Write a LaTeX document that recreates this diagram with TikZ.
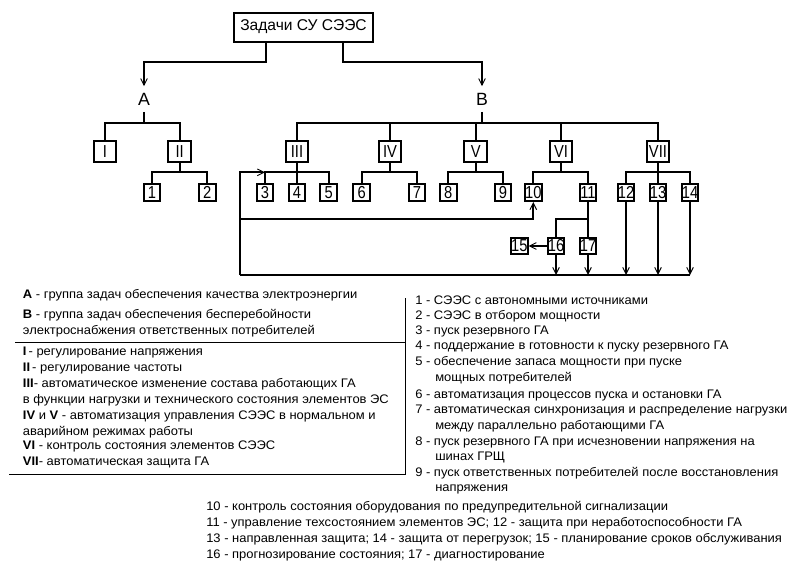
\documentclass[tikz,border=0pt]{standalone}
\usepackage{fontspec}
\setmainfont{Liberation Sans}
\newfontfamily\narrowfont{Liberation Sans}[FakeStretch=0.85]
\newfontfamily\legfont{Liberation Sans}[FakeStretch=1.045]
\usetikzlibrary{arrows.meta,calc}
\tikzset{
  conn/.style={line width=1.5pt},
  arr/.style={conn,-{Straight Barb[length=5pt,width=5pt,line width=0.7pt]}},
  rbox/.style={draw,line width=1.5pt,minimum width=17pt,minimum height=16pt,inner sep=0pt,font=\narrowfont\fontsize{13}{13}\selectfont},
  nbox/.style={draw,line width=1.5pt,minimum width=12.5pt,minimum height=12.5pt,inner sep=0pt,font=\narrowfont\fontsize{13}{13}\selectfont},
  grp/.style={inner sep=0pt,minimum height=18.75pt,font=\fontsize{13.3}{13.3}\selectfont},
  leg/.style={anchor=west,inner sep=0pt,font=\legfont\fontsize{9.3}{11}\selectfont},
  sep/.style={line width=0.75pt}
}
\begin{document}
\begin{tikzpicture}[x=0.75pt,y=-0.75pt]
\useasboundingbox (0,0) rectangle (797,572);
% title
\node[draw,line width=1.5pt,minimum width=104.6pt,minimum height=21.75pt,inner sep=0pt,font=\fontsize{11.7}{11.7}\selectfont] (title) at (303.5,27) {Задачи СУ СЭЭС};
\node[grp] (A) at (144,99) {A};
\node[grp] (B) at (482,99) {B};
% roman boxes
\node[rbox] (I) at (105,151.7) {I};
\node[rbox] (II) at (179.7,151.7) {II};
\node[rbox] (III) at (297,151.7) {III};
\node[rbox] (IV) at (390,151.7) {IV};
\node[rbox] (V) at (475.8,151.7) {V};
\node[rbox] (VI) at (561,151.7) {VI};
\node[rbox] (VII) at (658,151.7) {VII};
% number boxes
\node[nbox] (n1) at (152,192.7) {1};
\node[nbox] (n2) at (207.3,192.7) {2};
\node[nbox] (n3) at (265,192.7) {3};
\node[nbox] (n4) at (297,192.7) {4};
\node[nbox] (n5) at (328.7,192.7) {5};
\node[nbox] (n6) at (361.7,192.7) {6};
\node[nbox] (n7) at (417,192.7) {7};
\node[nbox] (n8) at (448.3,192.7) {8};
\node[nbox] (n9) at (503,192.7) {9};
\node[nbox] (n10) at (533.3,192.7) {10};
\node[nbox] (n11) at (588,192.7) {11};
\node[nbox] (n12) at (626,192.7) {12};
\node[nbox] (n13) at (658,192.7) {13};
\node[nbox] (n14) at (690,192.7) {14};
\node[nbox] (n15) at (519.3,246) {15};
\node[nbox] (n16) at (556,246) {16};
\node[nbox] (n17) at (588,246) {17};
% junction coordinates
\coordinate (ta) at (265.7,62.3);
\coordinate (tb) at (342.7,62.3);
\coordinate (aj) at (144,122.7);
\coordinate (bj) at (482,122.7);
\coordinate (c2) at (179.7,172.3);
\coordinate (c4) at (390,172.3);
\coordinate (c5) at (475.8,172.3);
\coordinate (c6) at (561,172.3);
\coordinate (lt) at (240,172.3);
\coordinate (lm) at (240,219);
\coordinate (lb) at (240,275);
% title to groups
\draw[arr] (title.south -| ta) -- (ta) -| (A.north);
\draw[arr] (title.south -| tb) -- (tb) -| (B.north);
% group A
\draw[conn] (A.south) -- (aj);
\draw[conn] (I.north) |- (aj) -| (II.north);
\draw[conn] (II.south) -- (c2);
\draw[conn] (n1.north) |- (c2) -| (n2.north);
% group B
\draw[conn] (B.south) -- (bj);
\draw[conn] (III.north) |- (bj) -| (VII.north);
\draw[conn] (IV.north) -- (IV.north |- bj);
\draw[conn] (V.north) -- (V.north |- bj);
\draw[conn] (VI.north) -- (VI.north |- bj);
% children
\draw[conn] (III.south) -- (n4.north);
\draw[conn] (n3.north) |- (n5.north |- lt) -- (n5.north);
\draw[conn] (IV.south) -- (c4);
\draw[conn] (n6.north) |- (c4) -| (n7.north);
\draw[conn] (V.south) -- (c5);
\draw[conn] (n8.north) |- (c5) -| (n9.north);
\draw[conn] (VI.south) -- (c6);
\draw[conn] (n10.north) |- (c6) -| (n11.north);
\draw[conn] (VII.south) -- (n13.north);
\draw[conn] (n12.north) |- (n13.north |- lt) -| (n14.north);
% feedback loop
\draw[arr] (lb) -- (lt) -- (lt -| n3.north);
\draw[conn] (lb) -- (lb -| n14.south);
\draw[arr] (lm) -| (n10.south);
\draw[conn] (n11.south) -- (n17.north);
\draw[conn] (n11.south |- lm) -| (n16.north);
\draw[arr] (n16.west) -- (n15.east);
\draw[arr] (n16.south) -- (n16.south |- lb);
\draw[arr] (n17.south) -- (n17.south |- lb);
\draw[arr] (n12.south) -- (n12.south |- lb);
\draw[arr] (n13.south) -- (n13.south |- lb);
\draw[arr] (n14.south) -- (n14.south |- lb);
% legend frame
\coordinate (fs) at (15,342);
\coordinate (fb) at (9,474);
\coordinate (ft) at (405,298);
\draw[sep] (fs) -- (fs -| ft);
\draw[sep] (fb) -| (ft);
% left legend
\node[leg] (la) at (22.7,295) {\textbf{A} - группа задач обеспечения качества электроэнергии};
\node[leg] (lbB) at (22.7,315) {\textbf{B} - группа задач обеспечения бесперебойности};
\node[leg] (lc) at (22.7,330.7) {электроснабжения ответственных потребителей};
\node[leg] (l1) at (22.7,352.7) {\textbf{I}\,- регулирование напряжения};
\node[leg] (l2) at (22.7,368.3) {\textbf{II}\,- регулирование частоты};
\node[leg] (l3) at (22.7,384.3) {\textbf{III}- автоматическое изменение состава работающих ГА};
\node[leg] (l3b) at (22.7,400) {в функции нагрузки и технического состояния элементов ЭС};
\node[leg] (l4) at (22.7,416) {\textbf{IV} и \textbf{V} - автоматизация управления СЭЭС в нормальном и};
\node[leg] (l4b) at (22.7,431.7) {аварийном режимах работы};
\node[leg] (l6) at (22.7,446.7) {\textbf{VI} - контроль состояния элементов СЭЭС};
\node[leg] (l7) at (22.7,462.7) {\textbf{VII}- автоматическая защита ГА};
% right legend
\node[leg] (r1) at (415,300.7) {1 - СЭЭС с автономными источниками};
\node[leg] (r2) at (415,316) {2 - СЭЭС в отбором мощности};
\node[leg] (r3) at (415,331.7) {3 - пуск резервного ГА};
\node[leg] (r4) at (415,346.7) {4 - поддержание в готовности к пуску резервного ГА};
\node[leg] (r5) at (415,362.7) {5 - обеспечение запаса мощности при пуске};
\node[leg] (r5b) at (435,378.3) {мощных потребителей};
\node[leg] (r6) at (415,395) {6 - автоматизация процессов пуска и остановки ГА};
\node[leg] (r7) at (415,410.7) {7 - автоматическая синхронизация и распределение нагрузки};
\node[leg] (r7b) at (435,426.7) {между параллельно работающими ГА};
\node[leg] (r8) at (415,442.3) {8 - пуск резервного ГА при исчезновении напряжения на};
\node[leg] (r8b) at (435,457.7) {шинах ГРЩ};
\node[leg] (r9) at (415,473.3) {9 - пуск ответственных потребителей после восстановления};
\node[leg] (r9b) at (435,489) {напряжения};
% bottom legend
\node[leg] (b10) at (206,507.3) {10 - контроль состояния оборудования по предупредительной сигнализации};
\node[leg] (b11) at (206,523.3) {11 - управление техсостоянием элементов ЭС; 12 - защита при неработоспособности ГА};
\node[leg] (b13) at (206,539.3) {13 - направленная защита; 14 - защита от перегрузок; 15 - планирование сроков обслуживания};
\node[leg] (b16) at (206,555.3) {16 - прогнозирование состояния; 17 - диагностирование};
\end{tikzpicture}
\end{document}
